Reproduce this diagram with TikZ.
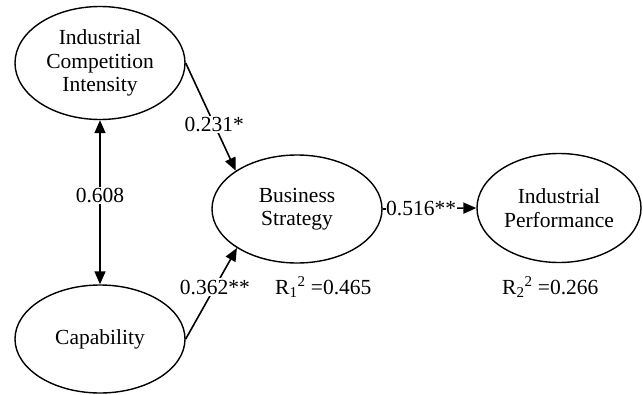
\documentclass[tikz,border=0pt]{standalone}
\usepackage{fontspec}
\setmainfont{Liberation Serif}
\usetikzlibrary{shapes.geometric,arrows.meta}
\begin{document}
\begin{tikzpicture}[x=1pt,y=-1pt,
  latent/.style={draw,ellipse,line width=1.4pt,inner sep=0pt,align=center,
    font=\fontsize{21.5}{23.5}\selectfont},
  path/.style={line width=1.6pt,-{Triangle[length=13pt,width=11pt]}},
  coef/.style={fill=white,inner sep=1.5pt,font=\fontsize{21.5}{23.5}\selectfont},
  rsq/.style={anchor=west,inner sep=0pt,font=\fontsize{21.5}{23.5}\selectfont}]
\useasboundingbox (0,0) rectangle (643,394);
\node[latent,minimum width=170pt,minimum height=113pt] (ici) at (100,63) {Industrial\\Competition\\Intensity};
\node[latent,minimum width=170pt,minimum height=108pt] (cap) at (100,339) {Capability};
\node[latent,minimum width=170pt,minimum height=108pt] (bs) at (297,209) {Business\\Strategy};
\node[latent,minimum width=164pt,minimum height=109pt] (ip) at (559,208) {Industrial\\Performance};
\draw[path,{Triangle[length=13pt,width=11pt]}-{Triangle[length=13pt,width=11pt]}] (ici.south) -- node[coef,pos=0.46] {0.608} (cap.north);
\draw[path] (ici.east) -- node[coef,pos=0.57] {0.231*} (bs.148);
\draw[path] (cap.east) -- node[coef,pos=0.57] {0.362**} (bs.213);
\draw[path] (bs.east) -- node[coef,pos=0.41,inner sep=0.5pt] {0.516**} (ip.west);
\node[rsq] (r1) at (275,287) {R\textsubscript{1}\textsuperscript{2} =0.465};
\node[rsq] (r2) at (502,287) {R\textsubscript{2}\textsuperscript{2} =0.266};
\end{tikzpicture}
\end{document}
